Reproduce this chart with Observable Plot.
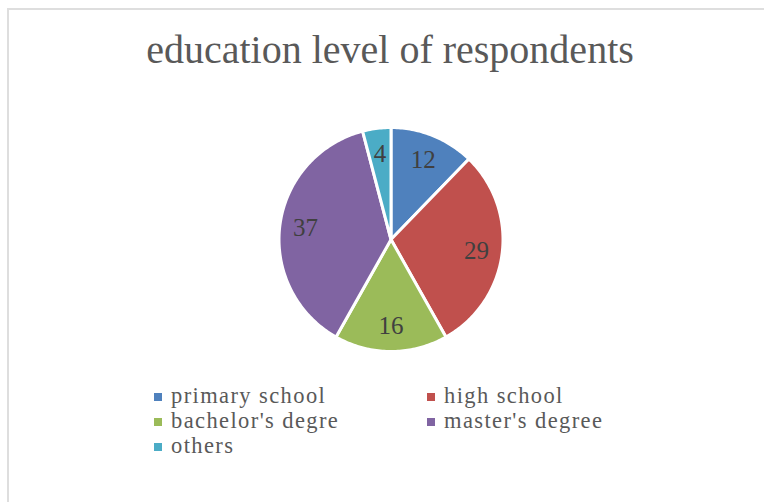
<!DOCTYPE html>
<html>
<head>
<meta charset="utf-8">
<script src="https://cdn.jsdelivr.net/npm/d3@7"></script>
<script src="https://cdn.jsdelivr.net/npm/@observablehq/plot@0.6"></script>
<style>
  html, body { margin: 0; padding: 0; background: #fff; }
  body { width: 764px; height: 502px; overflow: hidden; position: relative; font-family: "Liberation Serif", "DejaVu Serif", serif; color: #595959; }
  #frame { position: absolute; left: 7px; top: 8px; width: 800px; height: 600px; border-left: 2px solid #dedede; border-top: 2px solid #dedede; }
  #title { position: absolute; left: 0; top: 30px; width: 780px; text-align: center; font-size: 40px; line-height: 40px; white-space: nowrap; }
  #chart { position: absolute; left: 0; top: 110px; }
  #legend { position: absolute; left: 154px; top: 383px; display: grid; grid-template-columns: 273px auto; font-size: 22.5px; line-height: 25px; letter-spacing: 1.4px; }
  .item { display: flex; align-items: center; height: 25px; white-space: nowrap; }
  .item span { line-height: 25px; }
  .sw { width: 8px; height: 8px; margin-right: 9px; flex: none; position: relative; top: 1px; }
</style>
</head>
<body>
<div id="frame"></div>
<div id="title"></div>
<div id="chart"></div>
<div id="legend"></div>
<script>
const title = "education level of respondents";
const categories = ["primary school", "high school", "bachelor's degre", "master's degree", "others"];
const values = [12, 29, 16, 37, 4];
const palette = ["#4f81bd", "#c0504d", "#9bbb59", "#8064a2", "#4bacc6"];

document.getElementById("title").textContent = title;

const W = 764, H = 260, cx = 390.5, cy = 129, R = 112;

const arcs = d3.pie().sort(null)(values);
const slices = [];
const labels = [];
arcs.forEach((a, i) => {
  const cat = categories[i];
  slices.push({cat, x: 0, y: 0});
  const n = Math.max(2, Math.ceil((a.endAngle - a.startAngle) / (Math.PI / 180)));
  for (let k = 0; k <= n; k++) {
    const t = a.startAngle + (a.endAngle - a.startAngle) * k / n;
    slices.push({cat, x: Math.sin(t), y: Math.cos(t)});
  }
  slices.push({cat, x: 0, y: 0});
  const mid = (a.startAngle + a.endAngle) / 2;
  labels.push({cat, value: values[i], x: 0.77 * Math.sin(mid), y: 0.77 * Math.cos(mid)});
});

const chart = Plot.plot({
  width: W,
  height: H,
  margin: 0,
  x: {domain: [(0 - cx) / R, (W - cx) / R], axis: null},
  y: {domain: [(cy - H) / R, cy / R], axis: null},
  color: {domain: categories, range: palette},
  marks: [
    Plot.line(slices, {x: "x", y: "y", z: "cat", fill: "cat", stroke: "white", strokeWidth: 3, strokeLinejoin: "round", curve: "linear"}),
    Plot.text(labels, {x: "x", y: "y", text: d => String(d.value), fill: "#404040", fontSize: 25, fontFamily: "Liberation Serif", textAnchor: "middle"})
  ]
});
document.getElementById("chart").appendChild(chart);

const legend = document.getElementById("legend");
categories.forEach((c, i) => {
  const item = document.createElement("div");
  item.className = "item";
  const sw = document.createElement("span");
  sw.className = "sw";
  sw.style.background = palette[i];
  const tx = document.createElement("span");
  tx.textContent = c;
  item.appendChild(sw);
  item.appendChild(tx);
  legend.appendChild(item);
});
</script>
</body>
</html>
